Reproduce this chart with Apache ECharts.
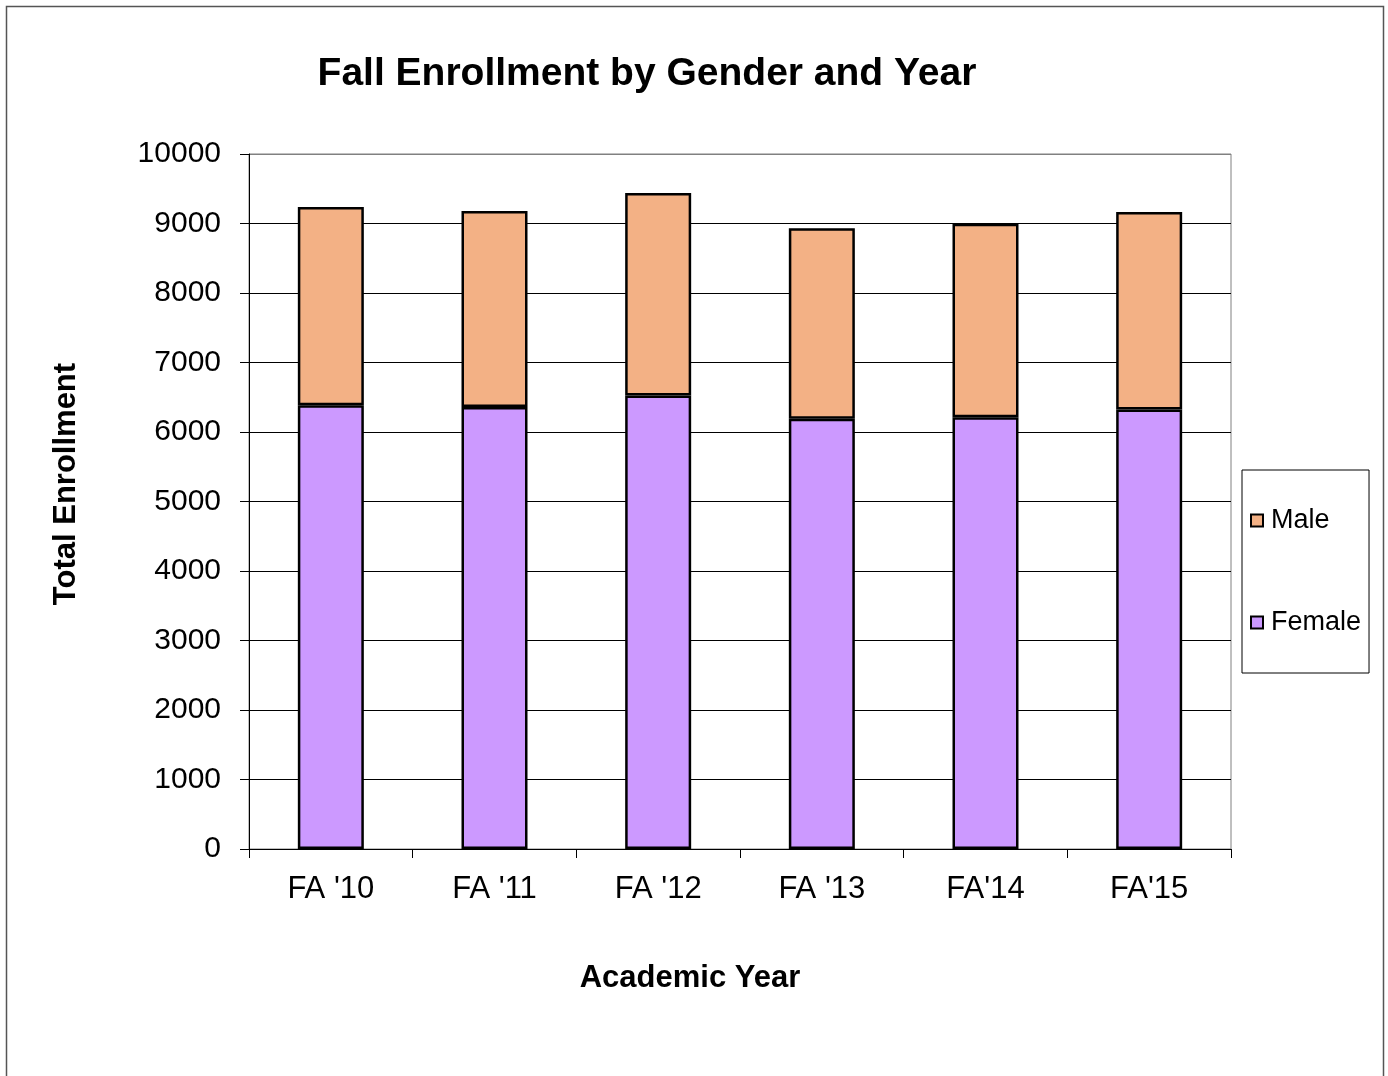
<!DOCTYPE html>
<html>
<head>
<meta charset="utf-8">
<script src="https://cdn.jsdelivr.net/npm/echarts@6/dist/echarts.min.js"></script>
<style>
html,body{margin:0;padding:0;background:#fff;}
#chart{width:1388px;height:1076px;}
</style>
</head>
<body>
<div id="chart"></div>
<script>
var categories = ["FA '10", "FA '11", "FA '12", "FA '13", "FA'14", "FA'15"];
var femaleValues = [6386, 6361, 6525, 6189, 6213, 6324];
var maleValues = [2853, 2820, 2915, 2743, 2782, 2843];
var yTicks = [0, 1000, 2000, 3000, 4000, 5000, 6000, 7000, 8000, 9000, 10000];

var FONT = "'Liberation Sans', Arial, sans-serif";
var gridColors = yTicks.map(function (v, i) { return i === yTicks.length - 1 ? '#808080' : '#000'; });
var chart = echarts.init(document.getElementById('chart'), null, {renderer: 'canvas'});
chart.setOption({
  backgroundColor: '#fff',
  animation: false,
  title: {
    text: 'Fall Enrollment by Gender and Year',
    left: 642,
    textAlign: 'center',
    top: 50,
    textStyle: {fontFamily: FONT, fontSize: 39, fontWeight: 'bold', color: '#000'}
  },
  graphic: [
    {type: 'rect', shape: {x: 6.5, y: 6.5, width: 1377, height: 1100}, style: {fill: 'none', stroke: '#555', lineWidth: 1.5}, silent: true, z: -1},
    {type: 'text', x: 66, y: 484, rotation: Math.PI / 2,
      style: {text: 'Total Enrollment', fontFamily: FONT, fontSize: 31, fontWeight: 'bold', fill: '#000', textAlign: 'center', textVerticalAlign: 'middle'}},
    {type: 'text', x: 690, y: 978,
      style: {text: 'Academic Year', fontFamily: FONT, fontSize: 31, fontWeight: 'bold', fill: '#000', textAlign: 'center', textVerticalAlign: 'middle'}}
  ],
  legend: {
    orient: 'vertical',
    left: 1242,
    top: 470,
    data: ['Male', 'Female'],
    icon: 'rect',
    itemWidth: 12,
    itemHeight: 12,
    itemGap: 75,
    padding: [37, 8, 37, 8],
    borderColor: '#000',
    borderWidth: 1,
    itemStyle: {borderColor: '#000', borderWidth: 2},
    textStyle: {fontFamily: FONT, fontSize: 27, color: '#000', lineHeight: 27, padding: [0, 0, 0, 3]}
  },
  grid: {
    left: 249, right: 157, top: 154, bottom: 227,
    show: true, borderColor: '#808080', borderWidth: 1, backgroundColor: 'transparent'
  },
  xAxis: {
    type: 'category',
    data: categories,
    axisLine: {lineStyle: {color: '#000', width: 1}},
    axisTick: {show: true, length: 9, lineStyle: {color: '#000'}},
    axisLabel: {fontFamily: FONT, fontSize: 31, color: '#000', margin: 25}
  },
  yAxis: {
    type: 'value',
    min: yTicks[0],
    max: yTicks[yTicks.length - 1],
    interval: 1000,
    axisLine: {show: true, lineStyle: {color: '#000', width: 1}},
    axisTick: {show: true, length: 9, lineStyle: {color: '#000'}},
    axisLabel: {fontFamily: FONT, fontSize: 30, color: '#000', margin: 28,
      formatter: function (v) { return String(v); }},
    splitLine: {show: true, lineStyle: {color: gridColors, width: 1}}
  },
  series: [
    {name: 'Female', type: 'bar', stack: 'total', data: femaleValues, barWidth: 66,
      itemStyle: {color: '#CC99FF', borderColor: '#000', borderWidth: 2.5}},
    {name: 'Male', type: 'bar', stack: 'total', data: maleValues, barWidth: 66,
      itemStyle: {color: '#F3B185', borderColor: '#000', borderWidth: 2.5}}
  ]
});
</script>
</body>
</html>
